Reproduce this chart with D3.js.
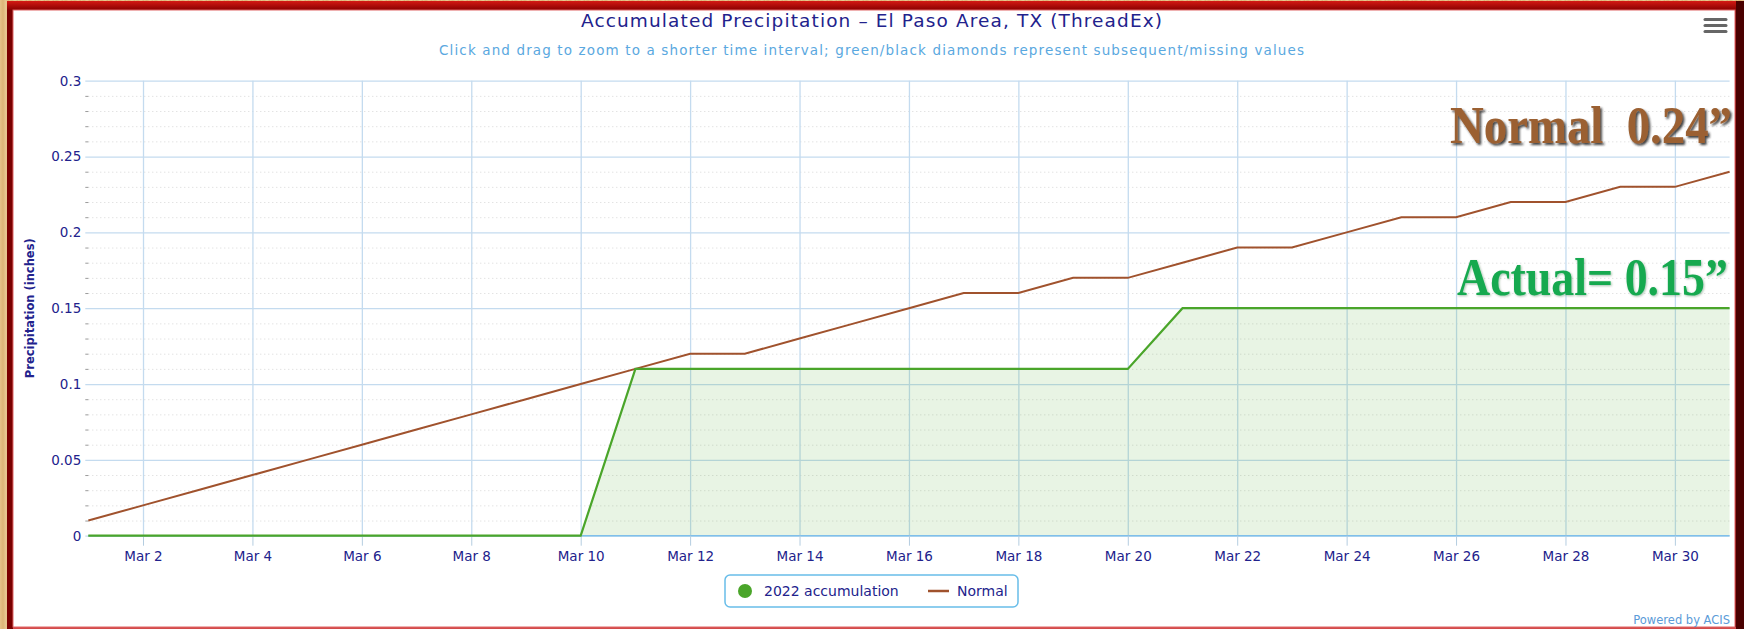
<!DOCTYPE html>
<html>
<head>
<meta charset="utf-8">
<script src="https://cdn.jsdelivr.net/npm/d3@7"></script>
<style>
  html, body { margin: 0; padding: 0; }
  body {
    width: 1744px; height: 629px; overflow: hidden;
    background: repeating-linear-gradient(90deg, #e6c38a 0px, #dcb577 3px, #e9c993 6px, #d9b174 9px);
  }
  svg { position: absolute; left: 0; top: 0; }
  text { font-family: "DejaVu Sans", Verdana, sans-serif; }
</style>
</head>
<body>
<svg id="chart"></svg>
<script>
// chart data
var days = d3.range(1, 32)
var normal = [0.01, 0.02, 0.03, 0.04, 0.05, 0.06, 0.07, 0.08, 0.09, 0.10,
  0.11, 0.12, 0.12, 0.13, 0.14, 0.15, 0.16, 0.16, 0.17, 0.17,
  0.18, 0.19, 0.19, 0.20, 0.21, 0.21, 0.22, 0.22, 0.23, 0.23, 0.24]
var actual = [0, 0, 0, 0, 0, 0, 0, 0, 0, 0,
  0.11, 0.11, 0.11, 0.11, 0.11, 0.11, 0.11, 0.11, 0.11, 0.11,
  0.15, 0.15, 0.15, 0.15, 0.15, 0.15, 0.15, 0.15, 0.15, 0.15, 0.15]
var seriesNames = ["2022 accumulation", "Normal"]
var xTickDays = d3.range(2, 31, 2)
var yTicks = [0, 0.05, 0.1, 0.15, 0.2, 0.25, 0.3]
var yMinorTicks = d3.range(1, 30).filter(function(d) { return d % 5 !== 0 }).map(function(d) { return d / 100 })
var titleText = "Accumulated Precipitation \u2013 El Paso Area, TX (ThreadEx)"
var subtitleText = "Click and drag to zoom to a shorter time interval; green/black diamonds represent subsequent/missing values"
var yTitle = "Precipitation (inches)"
var normalNote = "Normal  0.24\u201d"
var actualNote = "Actual= 0.15\u201d"

var colors = {
  green: "#4aa52a",
  fill: "rgba(80,170,50,0.13)",
  brown: "#a0522d",
  navy: "#22228c",
  grid: "#c4dbef",
  axis: "#7fbfea"
}

var W = 1744, H = 629
var plot = { left: 88.3, right: 1729.6, top: 80.7, bottom: 535.7 }

var svg = d3.select("#chart").attr("width", W).attr("height", H)

var defs = svg.append("defs")
var grad = defs.append("linearGradient").attr("id", "topband").attr("x1", 0).attr("x2", 0).attr("y1", 0).attr("y2", 1)
grad.append("stop").attr("offset", "0%").attr("stop-color", "#d41a14")
grad.append("stop").attr("offset", "100%").attr("stop-color", "#8a0000")
defs.append("filter").attr("id", "shadow").attr("x", "-10%").attr("y", "-20%").attr("width", "130%").attr("height", "150%")
  .append("feDropShadow").attr("dx", 2).attr("dy", 2).attr("stdDeviation", 1.2)
  .attr("flood-color", "#1a1a1a").attr("flood-opacity", 0.85)
defs.append("filter").attr("id", "shadow2").attr("x", "-10%").attr("y", "-20%").attr("width", "130%").attr("height", "150%")
  .append("feDropShadow").attr("dx", 1).attr("dy", 1).attr("stdDeviation", 1)
  .attr("flood-color", "#0a4a22").attr("flood-opacity", 0.35)

// frame
svg.append("rect").attr("x", 7).attr("y", 1).attr("width", W - 7).attr("height", H - 1).attr("fill", "#7a0000")
svg.append("rect").attr("x", 7).attr("y", 1).attr("width", W - 7).attr("height", 9).attr("fill", "url(#topband)")
svg.append("rect").attr("x", 1736).attr("y", 1).attr("width", 8).attr("height", H - 1).attr("fill", "#4a0000")
svg.append("rect").attr("x", 13).attr("y", 627).attr("width", 1723).attr("height", 2).attr("fill", "#d24a4a")
svg.append("rect").attr("x", 13).attr("y", 10).attr("width", 1722).attr("height", 617)
  .attr("fill", "#fff").attr("stroke", "#e06464").attr("stroke-width", 1)

var dates = days.map(function(d) { return new Date(2022, 2, d) })
var x = d3.scaleTime()
  .domain([dates[0], dates[dates.length - 1]])
  .range([plot.left, plot.right])
var y = d3.scaleLinear()
  .domain([0, 0.3])
  .range([plot.bottom, plot.top])

// minor dotted grid
svg.append("g")
  .attr("transform", "translate(" + plot.left + ",0)")
  .call(d3.axisLeft(y).tickValues(yMinorTicks).tickSize(-(plot.right - plot.left)).tickFormat(""))
  .call(function(g) {
    g.select(".domain").remove()
    g.selectAll("line").attr("stroke", "#d6d6d6").attr("stroke-dasharray", "1,3").attr("x2", plot.right - plot.left)
  })
svg.append("g")
  .attr("transform", "translate(" + plot.left + ",0)")
  .call(d3.axisLeft(y).tickValues(yMinorTicks).tickSize(3).tickFormat(""))
  .call(function(g) {
    g.select(".domain").remove()
    g.selectAll("line").attr("stroke", "#9a9a9a")
  })

// major y grid + labels
svg.append("g")
  .attr("transform", "translate(" + plot.left + ",0)")
  .call(d3.axisLeft(y).tickValues(yTicks).tickSize(-(plot.right - plot.left)).tickPadding(7)
    .tickFormat(function(d) { return String(+d.toFixed(2)) }))
  .call(function(g) {
    g.select(".domain").remove()
    g.selectAll("line").attr("stroke", colors.grid).attr("stroke-width", 1.3).attr("x1", -3)
    g.selectAll("text").attr("fill", colors.navy).attr("font-size", "13.5px")
      .attr("font-family", "DejaVu Sans, Verdana, sans-serif")
  })

// vertical grid
svg.append("g")
  .attr("transform", "translate(0," + plot.top + ")")
  .call(d3.axisBottom(x).tickValues(xTickDays.map(function(d) { return new Date(2022, 2, d) }))
    .tickSize(plot.bottom - plot.top).tickFormat(""))
  .call(function(g) {
    g.select(".domain").remove()
    g.selectAll("line").attr("stroke", colors.grid).attr("stroke-width", 1.3)
  })

// area + lines
var area = d3.area()
  .x(function(d, i) { return x(dates[i]) })
  .y0(y(0))
  .y1(function(d) { return y(d) })
svg.append("path").datum(actual).attr("d", area).attr("fill", colors.fill)

// x axis
svg.append("g")
  .attr("transform", "translate(0," + plot.bottom + ")")
  .call(d3.axisBottom(x).tickValues(xTickDays.map(function(d) { return new Date(2022, 2, d) }))
    .tickSize(10).tickPadding(6).tickFormat(d3.timeFormat("Mar %-d")))
  .call(function(g) {
    g.select(".domain").attr("stroke", colors.axis).attr("stroke-width", 1.5)
      .attr("d", "M" + plot.left + ",0H" + plot.right)
    g.selectAll("line").attr("stroke", "#b4cde0")
    g.selectAll("text").attr("fill", colors.navy).attr("font-size", "13.5px")
      .attr("font-family", "DejaVu Sans, Verdana, sans-serif")
  })

var line = d3.line()
  .x(function(d, i) { return x(dates[i]) })
  .y(function(d) { return y(d) })
svg.append("path").datum(normal).attr("d", line)
  .attr("fill", "none").attr("stroke", colors.brown).attr("stroke-width", 2)
svg.append("path").datum(actual).attr("d", line)
  .attr("fill", "none").attr("stroke", colors.green).attr("stroke-width", 2.2)

// titles
svg.append("text").attr("x", 871.5).attr("y", 27).attr("text-anchor", "middle")
  .attr("textLength", 581).attr("lengthAdjust", "spacing")
  .attr("font-size", "18.5px").attr("fill", colors.navy).text(titleText)
svg.append("text").attr("x", 871.5).attr("y", 55).attr("text-anchor", "middle")
  .attr("textLength", 865).attr("lengthAdjust", "spacing")
  .attr("font-size", "13.5px").attr("fill", "#5aa8e0").text(subtitleText)
svg.append("text")
  .attr("transform", "translate(34," + (plot.top + plot.bottom) / 2 + ") rotate(-90)")
  .attr("text-anchor", "middle").attr("font-size", "11.5px").attr("font-weight", "bold")
  .attr("fill", colors.navy).text(yTitle)

// menu icon
svg.append("g").selectAll("line").data([0, 1, 2]).enter().append("line")
  .attr("x1", 1705).attr("x2", 1726)
  .attr("y1", function(d) { return 19.5 + d * 6 }).attr("y2", function(d) { return 19.5 + d * 6 })
  .attr("stroke", "#666").attr("stroke-width", 3).attr("stroke-linecap", "round")

// legend
var legend = svg.append("g").attr("transform", "translate(725,575)")
legend.append("rect").attr("width", 293).attr("height", 32).attr("rx", 5)
  .attr("fill", "#fff").attr("stroke", "#68bde9").attr("stroke-width", 1.5)
legend.append("circle").attr("cx", 20).attr("cy", 16).attr("r", 7).attr("fill", colors.green)
legend.append("text").attr("x", 39).attr("y", 21).attr("font-size", "14px").attr("fill", colors.navy).text(seriesNames[0])
legend.append("line").attr("x1", 203).attr("x2", 224).attr("y1", 16).attr("y2", 16)
  .attr("stroke", colors.brown).attr("stroke-width", 2.5)
legend.append("text").attr("x", 232).attr("y", 21).attr("font-size", "14px").attr("fill", colors.navy).text(seriesNames[1])

svg.append("text").attr("x", 1730).attr("y", 624).attr("text-anchor", "end")
  .attr("font-size", "11.5px").attr("fill", "#5b9bd8").text("Powered by ACIS")

// big annotations, squeezed horizontally to the width seen in the picture
function note(text, x0, baseline, width, fill, filter) {
  var t = svg.append("text")
    .style("white-space", "pre")
    .style("font-family", "'Liberation Serif', serif")
    .attr("font-size", "52px").attr("font-weight", "bold").attr("fill", fill)
    .attr("filter", filter).text(text)
  var natural = t.node().getComputedTextLength()
  t.attr("transform", "translate(" + x0 + "," + baseline + ") scale(" + (width / natural) + ",1)")
}
note(normalNote, 1450, 143, 282, "#9b6133", "url(#shadow)")
note(actualNote, 1457, 295, 271, "#16a950", "url(#shadow2)")
</script>
</body>
</html>
